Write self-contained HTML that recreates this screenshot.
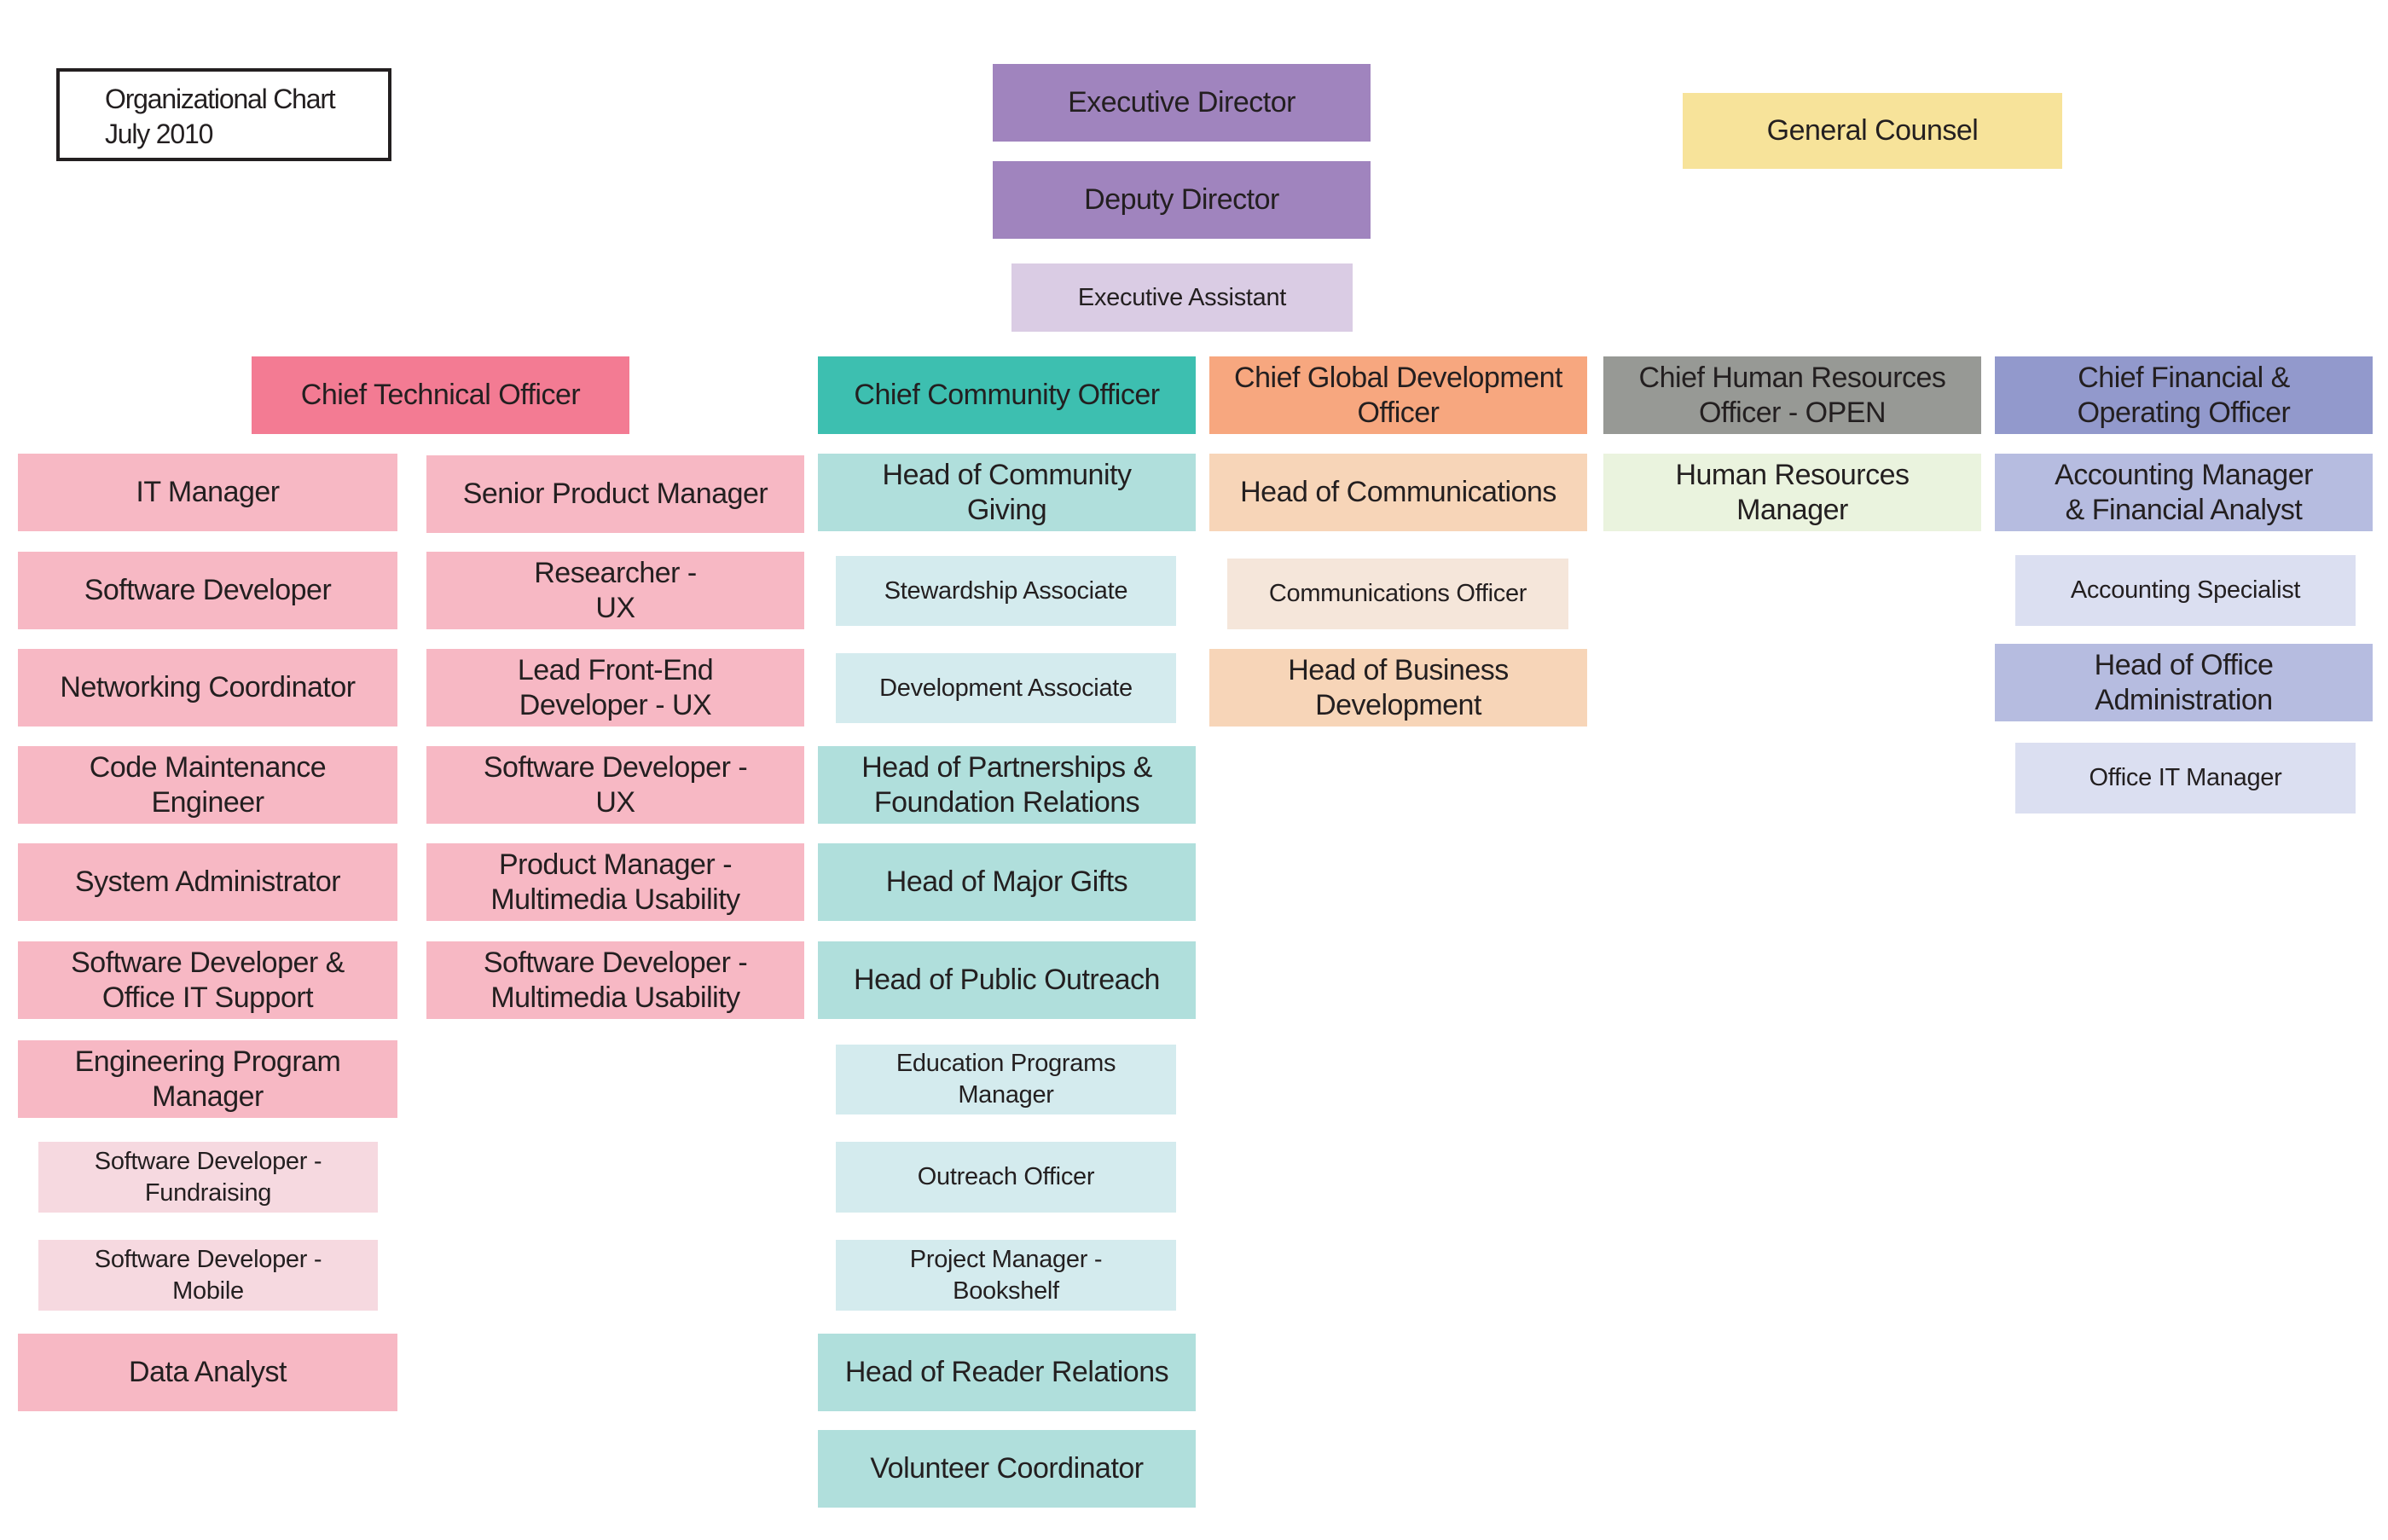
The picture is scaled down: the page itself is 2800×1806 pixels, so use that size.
<!DOCTYPE html>
<html><head><meta charset="utf-8"><style>
*{margin:0;padding:0;box-sizing:border-box}
body{width:2800px;height:1806px;background:#fff;position:relative;overflow:hidden;font-family:"Liberation Sans",sans-serif;color:#231f20}
.b{position:absolute;display:flex;align-items:center;justify-content:center;text-align:center;font-size:34px;line-height:41px;letter-spacing:-0.5px}
.s{font-size:29px;line-height:37px;letter-spacing:-0.3px}
.t{position:absolute;left:66px;top:80px;width:393px;height:109px;border:4px solid #231f20;font-size:32px;line-height:41px;padding:12px 0 0 53px;letter-spacing:-1.2px}
</style></head><body>
<div class="t">Organizational Chart<br>July 2010</div>

<div class="b" style="left:1164px;top:75px;width:443px;height:91px;background:#a084be">Executive Director</div>
<div class="b" style="left:1164px;top:189px;width:443px;height:91px;background:#a084be">Deputy Director</div>
<div class="b s" style="left:1186px;top:309px;width:400px;height:80px;background:#dacce4">Executive Assistant</div>
<div class="b" style="left:1973px;top:109px;width:445px;height:89px;background:#f7e39a">General Counsel</div>

<div class="b" style="left:295px;top:418px;width:443px;height:91px;background:#f37b93">Chief Technical Officer</div>
<div class="b" style="left:959px;top:418px;width:443px;height:91px;background:#3dbfb0">Chief Community Officer</div>
<div class="b" style="left:1418px;top:418px;width:443px;height:91px;background:#f7a77f">Chief Global Development<br>Officer</div>
<div class="b" style="left:1880px;top:418px;width:443px;height:91px;background:#979995">Chief Human Resources<br>Officer - OPEN</div>
<div class="b" style="left:2339px;top:418px;width:443px;height:91px;background:#9299cc">Chief Financial &amp;<br>Operating Officer</div>

<div class="b" style="left:21px;top:532px;width:445px;height:91px;background:#f7b8c4">IT Manager</div>
<div class="b" style="left:21px;top:647px;width:445px;height:91px;background:#f7b8c4">Software Developer</div>
<div class="b" style="left:21px;top:761px;width:445px;height:91px;background:#f7b8c4">Networking Coordinator</div>
<div class="b" style="left:21px;top:875px;width:445px;height:91px;background:#f7b8c4">Code Maintenance<br>Engineer</div>
<div class="b" style="left:21px;top:989px;width:445px;height:91px;background:#f7b8c4">System Administrator</div>
<div class="b" style="left:21px;top:1104px;width:445px;height:91px;background:#f7b8c4">Software Developer &amp;<br>Office IT Support</div>
<div class="b" style="left:21px;top:1220px;width:445px;height:91px;background:#f7b8c4">Engineering Program<br>Manager</div>
<div class="b s" style="left:45px;top:1339px;width:398px;height:83px;background:#f6d9e0">Software Developer -<br>Fundraising</div>
<div class="b s" style="left:45px;top:1454px;width:398px;height:83px;background:#f6d9e0">Software Developer -<br>Mobile</div>
<div class="b" style="left:21px;top:1564px;width:445px;height:91px;background:#f7b8c4">Data Analyst</div>

<div class="b" style="left:500px;top:534px;width:443px;height:91px;background:#f7b8c4">Senior Product Manager</div>
<div class="b" style="left:500px;top:647px;width:443px;height:91px;background:#f7b8c4">Researcher -<br>UX</div>
<div class="b" style="left:500px;top:761px;width:443px;height:91px;background:#f7b8c4">Lead Front-End<br>Developer - UX</div>
<div class="b" style="left:500px;top:875px;width:443px;height:91px;background:#f7b8c4">Software Developer -<br>UX</div>
<div class="b" style="left:500px;top:989px;width:443px;height:91px;background:#f7b8c4">Product Manager -<br>Multimedia Usability</div>
<div class="b" style="left:500px;top:1104px;width:443px;height:91px;background:#f7b8c4">Software Developer -<br>Multimedia Usability</div>

<div class="b" style="left:959px;top:532px;width:443px;height:91px;background:#b0dfdc">Head of Community<br>Giving</div>
<div class="b s" style="left:980px;top:652px;width:399px;height:82px;background:#d4ebee">Stewardship Associate</div>
<div class="b s" style="left:980px;top:766px;width:399px;height:82px;background:#d4ebee">Development Associate</div>
<div class="b" style="left:959px;top:875px;width:443px;height:91px;background:#b0dfdc">Head of Partnerships &amp;<br>Foundation Relations</div>
<div class="b" style="left:959px;top:989px;width:443px;height:91px;background:#b0dfdc">Head of Major Gifts</div>
<div class="b" style="left:959px;top:1104px;width:443px;height:91px;background:#b0dfdc">Head of Public Outreach</div>
<div class="b s" style="left:980px;top:1225px;width:399px;height:82px;background:#d4ebee">Education Programs<br>Manager</div>
<div class="b s" style="left:980px;top:1339px;width:399px;height:83px;background:#d4ebee">Outreach Officer</div>
<div class="b s" style="left:980px;top:1454px;width:399px;height:83px;background:#d4ebee">Project Manager -<br>Bookshelf</div>
<div class="b" style="left:959px;top:1564px;width:443px;height:91px;background:#b0dfdc">Head of Reader Relations</div>
<div class="b" style="left:959px;top:1677px;width:443px;height:91px;background:#b0dfdc">Volunteer Coordinator</div>

<div class="b" style="left:1418px;top:532px;width:443px;height:91px;background:#f7d5b8">Head of Communications</div>
<div class="b s" style="left:1439px;top:655px;width:400px;height:83px;background:#f5e6da">Communications Officer</div>
<div class="b" style="left:1418px;top:761px;width:443px;height:91px;background:#f7d5b8">Head of Business<br>Development</div>

<div class="b" style="left:1880px;top:532px;width:443px;height:91px;background:#eaf3de">Human Resources<br>Manager</div>

<div class="b" style="left:2339px;top:532px;width:443px;height:91px;background:#b6bce0">Accounting Manager<br>&amp; Financial Analyst</div>
<div class="b s" style="left:2363px;top:651px;width:399px;height:83px;background:#dbdff1">Accounting Specialist</div>
<div class="b" style="left:2339px;top:755px;width:443px;height:91px;background:#b6bce0">Head of Office<br>Administration</div>
<div class="b s" style="left:2363px;top:871px;width:399px;height:83px;background:#dbdff1">Office IT Manager</div>
</body></html>
